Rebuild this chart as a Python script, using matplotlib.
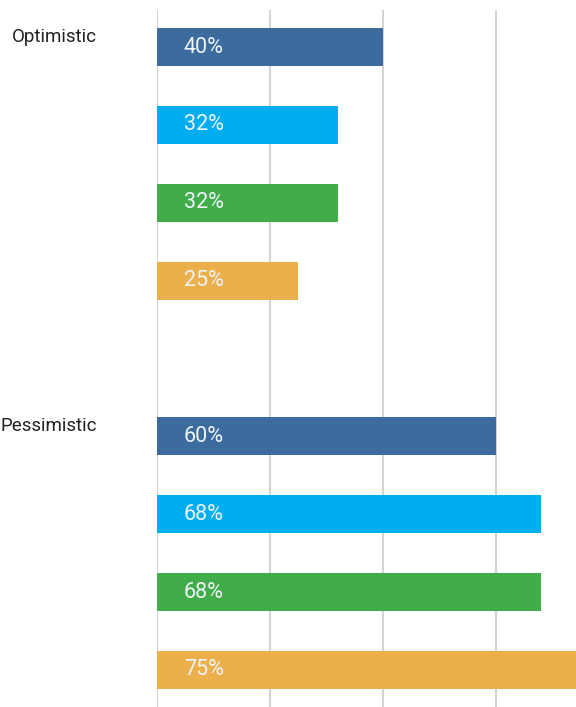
import matplotlib
matplotlib.use("Agg")
import matplotlib.pyplot as plt
from matplotlib.transforms import blended_transform_factory

groups = ["Optimistic", "Pessimistic"]
series_colors = ["#3c6b9e", "#00aeef", "#41ad49", "#ebb04b"]
values = {
    "Optimistic": [40, 32, 32, 25],
    "Pessimistic": [60, 68, 68, 75],
}
grid_ticks = [0, 20, 40, 60]

FONT = ["Roboto", "DejaVu Sans"]

W, H = 576, 707
fig = plt.figure(figsize=(W / 100, H / 100), dpi=100)
ax = fig.add_axes([157 / W, 0, 1 - 157 / W, 1 - 10 / H])

pos = 0
last = 0
label_tf = blended_transform_factory(fig.transFigure, ax.transData)
for g in groups:
    vals = values[g]
    first = pos
    for v, c in zip(vals, series_colors):
        ax.barh(pos, v, height=0.49, color=c, zorder=2)
        ax.annotate(f"{v}%", xy=(0, pos), xytext=(27, 0), textcoords="offset pixels",
                    ha="left", va="center", color="#eef3f8", fontsize=15.5,
                    family=FONT, zorder=3)
        last = pos
        pos += 1
    fig.text(97 / W, first - 0.13, g, transform=label_tf, ha="right", va="center",
             fontsize=13.5, color="#222222", family=FONT)
    pos += 1

for t in grid_ticks:
    ax.axvline(t, color="#d4d4d4", lw=1.5, zorder=1)

ax.set_xlim(0, (W - 157) / 5.65)
ax.set_ylim(last + 0.477, -0.477)
ax.axis("off")

fig.savefig("out.png", dpi=100)
